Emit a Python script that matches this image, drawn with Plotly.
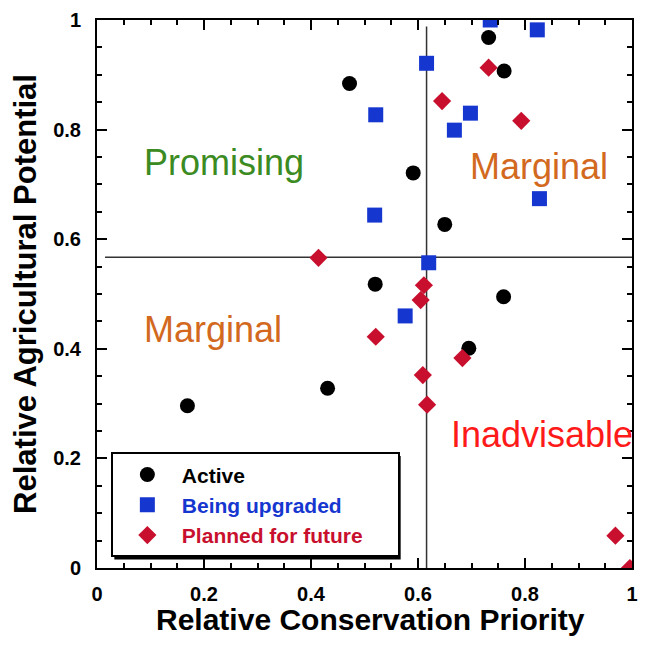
import plotly.graph_objects as go

# ---- data ----
active_x = [0.472, 0.732, 0.761, 0.591, 0.650, 0.520, 0.760, 0.695, 0.431, 0.169]
active_y = [0.884, 0.968, 0.907, 0.721, 0.627, 0.518, 0.495, 0.401, 0.328, 0.296]

upgraded_x = [0.735, 0.823, 0.616, 0.521, 0.698, 0.668, 0.827, 0.519, 0.620, 0.576]
upgraded_y = [1.000, 0.982, 0.921, 0.827, 0.830, 0.799, 0.674, 0.644, 0.557, 0.460]

planned_x = [0.732, 0.645, 0.793, 0.414, 0.611, 0.605, 0.521, 0.683, 0.609, 0.617, 0.969, 0.996]
planned_y = [0.913, 0.852, 0.816, 0.566, 0.516, 0.489, 0.422, 0.383, 0.352, 0.298, 0.059, 0.000]

ag_threshold = 0.567
cons_threshold = 0.616

tick_vals = [0, 0.2, 0.4, 0.6, 0.8, 1.0]
tick_text = ["0", "0.2", "0.4", "0.6", "0.8", "1"]

quadrant_labels = ["Promising", "Marginal", "Marginal", "Inadvisable"]
quadrant_x = [0.237, 0.826, 0.216, 0.832]
quadrant_y = [0.740, 0.733, 0.436, 0.244]
quadrant_colors = ["#3b8b22", "#d2691e", "#d2691e", "#ff1a1a"]

x_title = "Relative Conservation Priority"
y_title = "Relative Agricultural Potential"

BLACK = "#000000"
BLUE = "#1636d0"
RED = "#c8102e"
FONT = "Liberation Sans"
PAD = "\u00a0" * 5  # widens the legend box a little, like the reference

fig = go.Figure()
fig.add_trace(go.Scatter(
    x=active_x, y=active_y, mode="markers",
    name="Active",
    marker=dict(symbol="circle", size=15, color=BLACK),
))
fig.add_trace(go.Scatter(
    x=upgraded_x, y=upgraded_y, mode="markers",
    name=f"<span style='color:{BLUE}'>Being upgraded</span>",
    marker=dict(symbol="square", size=15, color=BLUE),
))
fig.add_trace(go.Scatter(
    x=planned_x, y=planned_y, mode="markers",
    name=f"<span style='color:{RED}'>Planned for future{PAD}</span>",
    marker=dict(symbol="diamond", size=14, color=RED),
))

# quadrant divider lines
fig.add_shape(type="line", xref="x", yref="y", x0=0.015, x1=1.0,
              y0=ag_threshold, y1=ag_threshold,
              line=dict(color="#333333", width=1.5), layer="below")
fig.add_shape(type="line", xref="x", yref="y", x0=cons_threshold, x1=cons_threshold,
              y0=0.0, y1=0.988,
              line=dict(color="#333333", width=1.5), layer="below")

for t, x, y, c in zip(quadrant_labels, quadrant_x, quadrant_y, quadrant_colors):
    fig.add_annotation(x=x, y=y, xref="x", yref="y", text=t, showarrow=False,
                       xanchor="center", yanchor="middle",
                       font=dict(family=FONT, size=36, color=c))

# x-axis title
fig.add_annotation(x=0.512, y=-0.0945, xref="paper", yref="paper", text=x_title,
                   showarrow=False, xanchor="center", yanchor="middle",
                   font=dict(family=FONT, size=30, color="black", weight="bold"))

# legend shadow
fig.add_shape(type="rect", xref="paper", yref="paper",
              x0=0.0324, x1=0.5676, y0=0.0155, y1=0.2045,
              fillcolor="black", line=dict(width=0), layer="above")

axis_common = dict(
    range=[0, 1], tickmode="array", tickvals=tick_vals, ticktext=tick_text,
    ticks="inside", ticklen=10, tickwidth=1.5, tickcolor="black",
    minor=dict(dtick=0.05, ticks="inside", ticklen=5, tickwidth=1.5, tickcolor="black"),
    showline=True, linecolor="black", linewidth=2, mirror="ticks",
    showgrid=False, zeroline=False, ticklabeloverflow="allow",
    tickfont=dict(family=FONT, size=20, color="black", weight="bold"),
)

fig.update_layout(
    width=631, height=630,
    margin=dict(l=89, r=1, t=10, b=70),
    paper_bgcolor="white", plot_bgcolor="white",
    font=dict(family=FONT, color="black"),
    xaxis=dict(**axis_common, ticklabelstandoff=7),
    yaxis=dict(**axis_common, ticklabelstandoff=10,
               title=dict(text=y_title, standoff=8,
                          font=dict(family=FONT, size=31, color="black", weight="bold"))),
    legend=dict(
        x=0.0259, y=0.211, xanchor="left", yanchor="top",
        bgcolor="white", bordercolor="black", borderwidth=2,
        font=dict(family=FONT, size=21, color="black", weight="bold"),
        itemwidth=59,
    ),
    showlegend=True,
)

fig.write_html("out.html")
